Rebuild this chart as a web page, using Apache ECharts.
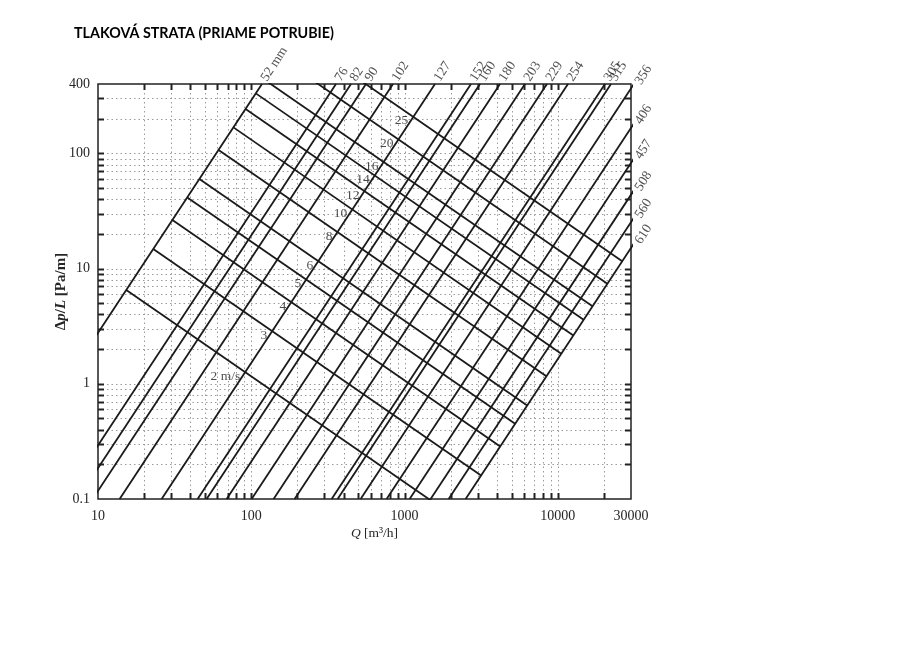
<!DOCTYPE html>
<html><head><meta charset="utf-8">
<script src="https://cdn.jsdelivr.net/npm/echarts@6/dist/echarts.min.js"></script>
<style>html,body{margin:0;padding:0;background:#fff}#c{width:900px;height:654px}</style>
</head><body><div id="c"></div>
<script>
// Pipe diameters [mm] and where each line crosses Δp/L = 400 (top) and Δp/L = 0.1 (bottom), Q in m³/h
const diameters   = [52, 76, 82, 90, 102, 127, 152, 160, 180, 203, 229, 254, 305, 315, 356, 406, 457, 508, 560, 610];
const diaQTop     = [117.4, 356.9, 447.1, 560.1, 840.3, 1579, 2711, 3103, 4192, 6100, 8489, 11637, 20293, 22206, 31360, 46345, 65500, 89780, 117650, 151840];
const diaQBottom  = [1.934, 5.88, 7.365, 9.226, 13.84, 26.01, 44.66, 51.12, 69.05, 100.5, 139.8, 191.7, 334.3, 365.8, 516.7, 763.4, 1079, 1479, 1938, 2501];
// Diameter label anchors (end of each line on the frame)
const diaLabelQ   = [117.4, 356.9, 447.1, 560.1, 840.3, 1579, 2711, 3103, 4192, 6100, 8489, 11637, 20293, 22206, 30000, 30000, 30000, 30000, 30000, 30000];
const diaLabelDp  = [400, 400, 400, 400, 400, 400, 400, 400, 400, 400, 400, 400, 400, 400, 365.6, 166.1, 82.65, 43.72, 25.31, 15.11];

// Velocity lines [m/s]: start on the 52 mm line, end on the 610 mm line
const velocities  = [2, 3, 4, 5, 6, 8, 10, 12, 14, 16, 20, 25];
const velStartQ   = [15.29, 22.94, 30.58, 38.23, 45.87, 61.16, 76.45, 91.74, 107.0, 122.3, 152.9, 191.1];
const velStartDp  = [6.51, 14.77, 26.41, 41.44, 59.9, 107.1, 168.1, 242.9, 331.7, 434.5, 681.7, 1070];
const velEndQ     = [2104, 3156, 4208, 5261, 6313, 8417, 10521, 12625, 14729, 16834, 21042, 26303];
const velEndDp    = [0.0705, 0.160, 0.286, 0.449, 0.649, 1.160, 1.820, 2.631, 3.593, 4.705, 7.384, 11.59];
// Velocity label anchors (on the 127 mm line)
const velLabelQ   = [91.2, 136.8, 182.4, 228, 273.6, 364.8, 456, 547, 638, 729.6, 912, 1140];
const velLabelDp  = [1.261, 2.86, 5.11, 8.03, 11.60, 20.74, 32.55, 47.04, 64.25, 84.1, 132.1, 207.3];

// Axis ticks
const xTicks = [20,30,40,50,60,70,80,90,100,200,300,400,500,600,700,800,900,1000,2000,3000,4000,5000,6000,7000,8000,9000,10000,20000];
const yTicks = [0.2,0.3,0.4,0.5,0.6,0.7,0.8,0.9,1,2,3,4,5,6,7,8,9,10,20,30,40,50,60,70,80,90,100,200,300];

const SERIF = 'Liberation Serif';
const LINE = '#1a1a1a';
const TXT = '#262626';
const fmt = v => String(+(+v).toPrecision(6));

const chart = echarts.init(document.getElementById('c'), null, {renderer: 'canvas'});
const series = [];

series.push({
  type: 'custom', coordinateSystem: 'cartesian2d', silent: true, z: 1,
  data: xTicks.map(v => [v, 1]),
  renderItem(params, api) {
    const cs = params.coordSys;
    const x = Math.round(api.coord([api.value(0), 1])[0]) + 0.5;
    const b = cs.y + cs.height;
    return {type: 'group', children: [
      {type: 'line', shape: {x1: x, y1: cs.y, x2: x, y2: b}, style: {stroke: '#9a9a9a', lineWidth: 1, lineDash: [1.5, 3]}},
      {type: 'line', shape: {x1: x, y1: b, x2: x, y2: b - 6}, style: {stroke: '#222', lineWidth: 2}},
      {type: 'line', shape: {x1: x, y1: cs.y, x2: x, y2: cs.y + 6}, style: {stroke: '#222', lineWidth: 2}}
    ]};
  }
});
series.push({
  type: 'custom', coordinateSystem: 'cartesian2d', silent: true, z: 1,
  data: yTicks.map(v => [100, v]),
  renderItem(params, api) {
    const cs = params.coordSys;
    const y = Math.round(api.coord([100, api.value(1)])[1]) + 0.5;
    const r = cs.x + cs.width;
    return {type: 'group', children: [
      {type: 'line', shape: {x1: cs.x, y1: y, x2: r, y2: y}, style: {stroke: '#9a9a9a', lineWidth: 1, lineDash: [1.5, 3]}},
      {type: 'line', shape: {x1: cs.x, y1: y, x2: cs.x + 6, y2: y}, style: {stroke: '#222', lineWidth: 2}},
      {type: 'line', shape: {x1: r, y1: y, x2: r - 6, y2: y}, style: {stroke: '#222', lineWidth: 2}}
    ]};
  }
});

diameters.forEach((d, i) => {
  series.push({
    type: 'line', name: d + ' mm', silent: true, z: 3, symbol: 'none', clip: true,
    lineStyle: {color: LINE, width: 1.8},
    data: [[diaQBottom[i], 0.1], [diaQTop[i], 400]]
  });
});
velocities.forEach((v, i) => {
  series.push({
    type: 'line', name: v + ' m/s', silent: true, z: 3, symbol: 'none', clip: true,
    lineStyle: {color: LINE, width: 1.8},
    data: [[velStartQ[i], velStartDp[i]], [velEndQ[i], velEndDp[i]]]
  });
});

const topIdx = diameters.map((d, i) => i).filter(i => diaLabelDp[i] === 400);
const rightIdx = diameters.map((d, i) => i).filter(i => diaLabelDp[i] !== 400);
series.push({
  type: 'scatter', silent: true, clip: false, symbolSize: 0, z: 5,
  data: topIdx.map(i => ({value: [diaLabelQ[i], diaLabelDp[i]], name: i === 0 ? diameters[i] + ' mm' : String(diameters[i])})),
  label: {show: true, formatter: p => p.name, position: [2, -4], align: 'left', verticalAlign: 'middle',
          rotate: 57, fontFamily: SERIF, fontSize: 13.5, color: TXT}
});
series.push({
  type: 'scatter', silent: true, clip: false, symbolSize: 0, z: 5,
  data: rightIdx.map(i => ({value: [diaLabelQ[i], diaLabelDp[i]], name: String(diameters[i])})),
  label: {show: true, formatter: p => p.name, position: [7, -5], align: 'left', verticalAlign: 'middle',
          rotate: 57, fontFamily: SERIF, fontSize: 13.5, color: TXT}
});
series.push({
  type: 'scatter', silent: true, clip: false, symbolSize: 0, z: 5,
  data: velocities.map((v, i) => ({value: [velLabelQ[i], velLabelDp[i]], name: i === 0 ? v + ' m/s' : String(v)})),
  label: {show: true, formatter: p => p.name, position: 'left', distance: 5, offset: [0, 4],
          fontFamily: SERIF, fontSize: 13.5, color: '#1e1e1e'}
});

chart.setOption({
  animation: false,
  backgroundColor: '#fff',
  title: {text: 'TLAKOVÁ STRATA (PRIAME POTRUBIE)', left: 69, top: 21,
          textStyle: {fontFamily: 'Lato', fontWeight: 'bold', fontSize: 14.3, color: '#000'}},
  grid: {left: 98, top: 84, width: 533, height: 415, show: true, borderColor: '#222', borderWidth: 1.5, backgroundColor: 'transparent'},
  xAxis: {
    type: 'log', logBase: 10, min: 10, max: 30000,
    axisLine: {show: false}, axisTick: {show: false}, splitLine: {show: false},
    axisLabel: {formatter: fmt, fontFamily: SERIF, fontSize: 14, color: TXT, margin: 10},
    name: '{i|Q} [m³/h]', nameLocation: 'middle', nameGap: 27, nameMoveOverlap: false,
    nameTextStyle: {fontFamily: SERIF, fontSize: 13.5, color: TXT, padding: [0, 0, 0, 20],
      rich: {i: {fontFamily: SERIF, fontSize: 13.5, fontStyle: 'italic', color: TXT}}}
  },
  yAxis: {
    type: 'log', logBase: 10, min: 0.1, max: 400,
    axisLine: {show: false}, axisTick: {show: false}, splitLine: {show: false},
    axisLabel: {formatter: fmt, fontFamily: SERIF, fontSize: 14, color: TXT, margin: 8},
    name: 'Δ{i|p}/{i|L} [Pa/m]', nameLocation: 'middle', nameGap: 29, nameMoveOverlap: false,
    nameTextStyle: {fontFamily: SERIF, fontSize: 15, fontWeight: 'bold', color: TXT,
      rich: {i: {fontFamily: SERIF, fontSize: 15, fontWeight: 'bold', fontStyle: 'italic', color: TXT}}}
  },
  series: series
});
</script>
</body></html>
